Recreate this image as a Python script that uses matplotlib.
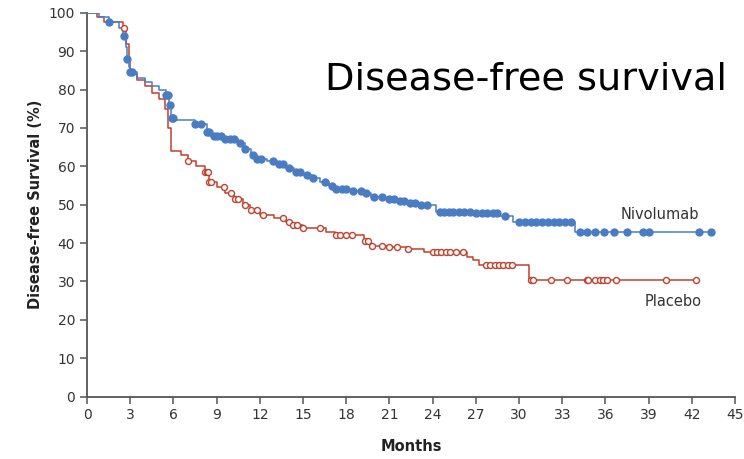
import numpy as np
import matplotlib
matplotlib.use('Agg')
import matplotlib.pyplot as plt

# Nivolumab arm: step times (months) and survival (%) after each step
niv_t = [0, 0.8, 1.5, 2.2, 2.5, 2.7, 2.8, 2.9, 3.0, 3.5, 4.0, 4.5, 5.0, 5.5, 5.7, 5.8, 6.2,
         7.5, 8.3, 8.6, 9.5, 10.5, 11.0, 11.4, 11.8, 12.5, 13.2, 13.8, 14.4, 15.0, 15.6,
         16.2, 16.8, 17.2, 18.4, 19.2, 19.7, 20.6, 21.4, 22.4, 23.2, 24.2, 27.0, 28.6,
         29.6, 33.9]
niv_s = [100, 99, 97.5, 96, 94, 91, 88, 86, 84.5, 83, 82, 81, 80, 78.5, 76, 72.5, 72,
         71, 69, 67.8, 67, 66, 64.5, 63, 62, 61.5, 60.5, 59.5, 58.5, 57.8, 57,
         56, 55, 54, 53.5, 53, 52, 51.5, 51, 50.5, 50, 48, 47.8, 47,
         45.5, 42.9]
niv_end = 43.5
niv_cens = [1.5, 2.6, 2.8, 3.0, 3.1, 5.5, 5.6, 5.75, 5.9, 6.0, 7.5, 7.9, 8.3, 8.5, 8.8, 9.0,
            9.3, 9.6, 9.9, 10.2, 10.6, 11.0, 11.5, 11.8, 12.1, 12.9, 13.3, 13.6, 14.0,
            14.5, 14.8, 15.3, 15.7, 16.5, 17.0, 17.3, 17.7, 18.0, 18.5, 19.0, 19.4,
            19.9, 20.5, 21.0, 21.3, 21.7, 22.0, 22.4, 22.8, 23.2, 23.6, 24.5, 24.8,
            25.1, 25.4, 25.8, 26.2, 26.6, 27.0, 27.4, 27.8, 28.2, 28.5, 29.0, 30.0,
            30.4, 30.8, 31.2, 31.6, 32.0, 32.4, 32.8, 33.2, 33.6, 34.2, 34.7, 35.3,
            35.9, 36.6, 37.5, 38.6, 39.0, 42.5, 43.3]

# Placebo arm
pla_t = [0, 0.7, 1.2, 2.5, 2.7, 2.9, 3.0, 3.5, 4.0, 4.5, 5.0, 5.4, 5.6, 5.8, 6.5, 7.0,
         7.6, 8.2, 8.5, 9.0, 9.6, 10.2, 10.8, 11.3, 12.0, 13.0, 13.8, 14.2, 15.0, 16.6,
         17.2, 19.2, 19.7, 21.0, 22.2, 23.4, 26.4, 26.8, 27.2, 30.7]
pla_s = [100, 99, 97.5, 96, 92, 88, 84, 82.5, 81, 79, 77.5, 75, 70, 64, 63, 61.5,
         60, 58.5, 56, 54.5, 53, 51.5, 50, 48.6, 47.3, 46.5, 45.5, 44.7, 44, 43,
         42, 40.5, 39.3, 39, 38.4, 37.7, 36.5, 35.5, 34.3, 30.4]
pla_end = 42.3
pla_cens = [2.6, 7.0, 8.2, 8.3, 8.4, 8.5, 8.6, 9.5, 10.0, 10.3, 10.5, 11.0, 11.4, 11.8,
            12.2, 13.6, 14.0, 14.3, 14.6, 15.0, 16.2, 17.3, 17.6, 18.0, 18.4, 19.3,
            19.5, 19.8, 20.5, 21.0, 21.5, 22.3, 24.0, 24.3, 24.6, 24.9, 25.2, 25.6,
            26.1, 27.7, 28.0, 28.3, 28.6, 28.9, 29.2, 29.5, 30.8, 31.0, 32.2, 33.3,
            34.7, 34.8, 35.3, 35.6, 35.8, 36.1, 36.7, 40.2, 42.3]

x_ticks = list(range(0, 46, 3))
y_ticks = list(range(0, 101, 10))

BLUE = '#4a7cc4'
RED = '#c2402e'


def step_value(t, s, x):
    idx = np.searchsorted(t, x, side='right') - 1
    return np.asarray(s)[idx]


fig = plt.figure(figsize=(7.44, 4.59), dpi=100)
ax = fig.add_axes([0.117, 0.136, 0.871, 0.836])

ax.step(niv_t + [niv_end], niv_s + [niv_s[-1]], where='post', color=BLUE, lw=1.1, zorder=3)
ax.plot(niv_cens, step_value(niv_t, niv_s, niv_cens), 'o', color=BLUE, ms=5, zorder=4)

ax.step(pla_t + [pla_end], pla_s + [pla_s[-1]], where='post', color=RED, lw=1.1, zorder=2)
ax.plot(pla_cens, step_value(pla_t, pla_s, pla_cens), 'o', mfc='white', mec=RED,
        mew=1.0, ms=4.3, zorder=3)

ax.set_xlim(0, 45)
ax.set_ylim(0, 100)
ax.set_xticks(x_ticks)
ax.set_yticks(y_ticks)
ax.spines['top'].set_visible(False)
ax.spines['right'].set_visible(False)
for sp in ('left', 'bottom'):
    ax.spines[sp].set_color('#555555')
    ax.spines[sp].set_linewidth(1.3)
ax.tick_params(direction='out', length=5, width=1.1, color='#555555',
               labelsize=10, labelcolor='#333333')
ax.set_xlabel('Months', fontsize=10.5, fontweight='bold', color='#222222', labelpad=12)
ax.set_ylabel('Disease-free Survival (%)', fontsize=10.5, fontweight='bold',
              color='#222222', labelpad=4)

ax.text(39.8, 47.5, 'Nivolumab', fontsize=10.5, color='#333333', ha='center', va='center')
ax.text(40.7, 24.9, 'Placebo', fontsize=10.5, color='#333333', ha='center', va='center')
ax.text(16.5, 79.9, 'Disease-free survival', fontsize=27.5, color='black',
        ha='left', va='baseline')

fig.savefig('out.png', dpi=100)
